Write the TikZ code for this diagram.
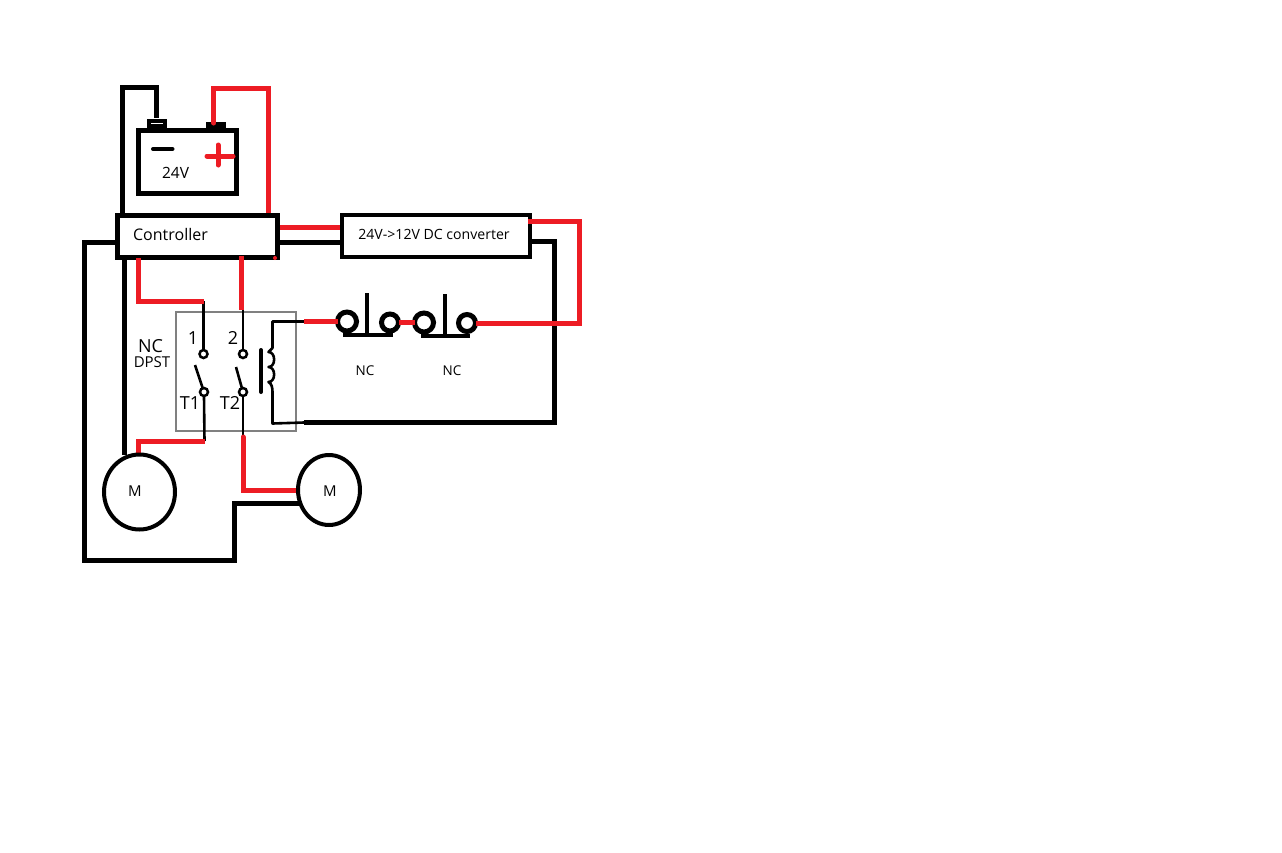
\documentclass[tikz,border=0pt]{standalone}
\usepackage{fontspec}
\setmainfont{Open Sans}
\usetikzlibrary{calc,shapes.geometric}
\definecolor{wirered}{RGB}{237,28,36}
\tikzset{
  x=1pt,y=-1pt,
  blk/.style={draw=black,line width=5pt,line join=miter},
  red/.style={draw=wirered,line width=5pt,line join=miter},
  thinw/.style={draw=black,line width=2.6pt},
  box/.style={draw=black,line width=4.8pt,fill=white,inner sep=0pt,outer sep=0pt},
  term/.style={circle,draw=black,line width=2.5pt,fill=white,minimum size=8pt,inner sep=0pt,outer sep=0pt},
  pad/.style={circle,draw=black,line width=5pt,fill=none,inner sep=0pt,outer sep=0pt},
  motor/.style={ellipse,draw=black,line width=4pt,fill=white,inner sep=0pt,outer sep=0pt},
  lbl/.style={inner sep=0pt,outer sep=0pt,text=black,font=\fontsize{#1}{#1}\selectfont},
}
\begin{document}
\begin{tikzpicture}
\useasboundingbox (0,0) rectangle (1282,852);
\fill[white] (0,0) rectangle (1282,852);
% free ends and bends
\coordinate (batN) at (156,118);
\coordinate (batP) at (213.7,123);
\coordinate (ctlTL) at (122.5,214);
\coordinate (ctlTR) at (268.7,214);
\coordinate (ctlL) at (116,242);
\coordinate (ctlR1) at (278,227);
\coordinate (ctlR2) at (278,242);
\coordinate (convL1) at (342,227);
\coordinate (convL2) at (342,242);
\coordinate (convR1) at (528,221);
\coordinate (convR2) at (530,241);
\coordinate (ctlB1) at (124.5,257);
\coordinate (ctlB2) at (138,258);
\coordinate (ctlB3) at (241.7,256);
\coordinate (s1top) at (203.5,301);
\coordinate (s2top) at (241.7,310);
\coordinate (t1bot) at (204.5,441);
\coordinate (t2bot) at (243,437);
\coordinate (coilT) at (304,321.5);
\coordinate (coilB) at (304,422.5);
\coordinate (bl1) at (195,365);
\coordinate (bl2) at (236,367);

% relay housing
\draw[draw=black!50,line width=1.2pt] (176,312) rectangle (296,431);

% thin relay wiring
\draw[thinw] (s1top) -- (203.5,350);
\draw[thinw] (s2top) -- (243,310) -- (243,350);
\draw[thinw] (204,396) -- (t1bot);
\draw[thinw] (243,396) -- (t2bot);
\draw[thinw] (bl1) -- (204,392);
\draw[thinw] (bl2) -- (243,392);
\node[term] (s1) at (203.5,354) {};
\node[term] (s2) at (243,354) {};
\node[term] (t1) at (204,392) {};
\node[term] (t2) at (243,392) {};
\draw[thinw,line join=round] (coilT) -- (272.5,321.5) -- (272.5,348) -- (268.5,352)
  .. controls (276,352) and (276,367) .. (268.5,367)
  .. controls (276,367) and (276,382) .. (268.5,382)
  .. controls (272,384) and (272.5,388) .. (272.5,392)
  -- (272.5,423.5) -- (coilB);
\draw[draw=black,line width=4pt,line cap=round] (261,350) -- (261,392);

% battery
\node[draw=black,line width=4pt,fill=white,minimum width=16pt,minimum height=5pt,inner sep=0pt,outer sep=0pt] (tn) at (157,123.5) {};
\node[draw=black,line width=4pt,fill=white,minimum width=16pt,minimum height=2.5pt,inner sep=0pt,outer sep=0pt] (tp) at (216,125) {};
\node[box,minimum width=98.5pt,minimum height=63.5pt] (bat) at (187.5,162) {};
\draw[draw=black,line width=4pt,line cap=round] (153,149) -- (172.5,149);
\draw[draw=wirered,line width=5pt,line cap=round] (207,156) -- (233,156);
\draw[draw=wirered,line width=5pt,line cap=round] (218,145) -- (218,165);
\node[lbl=15.5] (v24) at (175.5,173) {24V};

% wires to the battery
\draw[blk] (ctlTL) -- (122.5,87.5) -- (156,87.5) -- (batN);
\draw[red,line cap=round] (batP) -- (213.7,88.5) -- (268.7,88.5) -- (ctlTR);

% wires out of controller
\draw[blk] (ctlB1) -- (124.5,455);
\draw[blk] (ctlL) -- (84,242) -- (84,560.5) -- (234,560.5) -- (234,503) -- (300,503);
\draw[red] (ctlR1) -- (convL1);
\draw[blk] (ctlR2) -- (convL2);

% motor supply
\draw[red] (t1bot) -- (138,441) -- (138,456);
\draw[red,line cap=round] (t2bot) -- (243,490) -- (300,490);

% converter return
\draw[blk] (convR2) -- (554.5,241) -- (554.5,422.5) -- (coilB);

% motors
\node[motor,minimum width=71pt,minimum height=75pt] (m1) at (139.5,492) {};
\node[motor,minimum width=62pt,minimum height=70pt] (m2) at (329,490) {};
\node[lbl=15] at (135,491) {M};
\node[lbl=15] at (330,491) {M};

% controller and converter
\node[box,minimum width=160pt,minimum height=42pt] (ctl) at (197.5,236.5) {};
\node[lbl=16] (ctltxt) at (170.5,234) {Controller};
\node[box,minimum width=188pt,minimum height=42pt] (conv) at (436,236) {};
\node[lbl=14.1] (convtxt) at (434,234) {24V->12V DC converter};
\draw[red] (ctlB2) -- (138,301) -- (s1top);
\draw[red] (ctlB3) -- (s2top);
\fill[wirered] (275,258) circle[radius=2];

% converter positive through the NC switches
\draw[draw=black,line width=4.5pt] (343,335) -- (393,335);
\draw[draw=black,line width=4.5pt] (367,293) -- (367,335);
\draw[draw=black,line width=4.5pt] (421,336) -- (470,336);
\draw[draw=black,line width=4.5pt] (445,294) -- (445,336);
\node[pad,minimum size=19pt] (a1) at (347,321.5) {};
\node[pad,minimum size=17pt] (a2) at (390,322.5) {};
\node[pad,minimum size=19pt] (b1) at (424,322.5) {};
\node[pad,minimum size=17pt] (b2) at (467,323) {};
\draw[red] (coilT) -- (a1.west);
\draw[red] (a2.east) -- (b1.west);
\draw[red] (convR1) -- (579,221) -- (579,323) -- (b2.east);

% labels
\node[lbl=13.5] at (365,371) {NC};
\node[lbl=13.5] at (452,371) {NC};
\node[lbl=18] at (150.5,346) {NC};
\node[lbl=15] at (152,362) {DPST};
\node[lbl=18] at (193,338) {1};
\node[lbl=18] at (233,338) {2};
\node[lbl=18] at (190,403) {T1};
\node[lbl=18] at (230,403) {T2};
\end{tikzpicture}
\end{document}
